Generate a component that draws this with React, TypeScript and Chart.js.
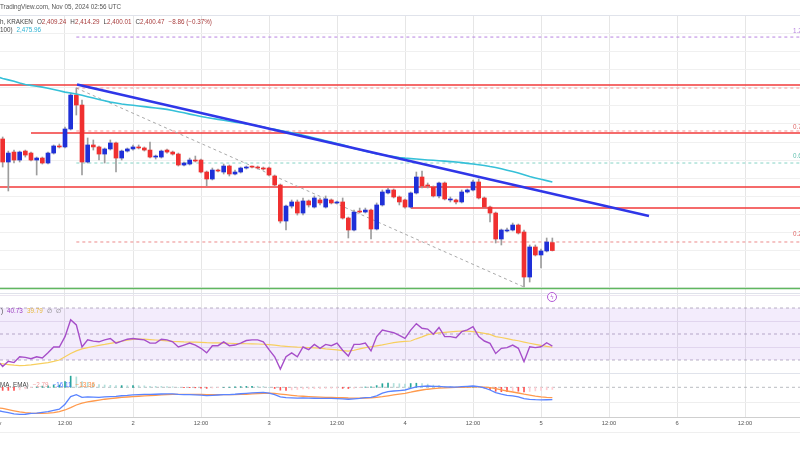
import { useEffect, useRef } from "react";
import { Chart, registerables } from "chart.js";

Chart.register(...registerables);

// ---------- time axis (hours since Nov 1 00:00 UTC) ----------
const X_MIN = 0.53;
const X_MAX = 141.7;
const TICK_HOURS = [12, 24, 36, 48, 60, 72, 84, 96, 108, 120, 132];
const TICK_LABELS = ["12:00", "2", "12:00", "3", "12:00", "4", "12:00", "5", "12:00", "6", "12:00"];

// ---------- hourly candles ETH/USD (Kraken) ----------
const openP = [
  2513.5, 2523.4, 2498.0, 2509.0, 2500.2, 2510.1, 2507.9, 2500.2, 2502.4, 2496.9,
  2507.9, 2515.7, 2514.6, 2534.4, 2571.8, 2560.8, 2498.0, 2516.8, 2514.6, 2506.8,
  2512.4, 2519.0, 2502.4, 2510.1, 2512.4, 2514.6, 2513.5, 2511.2, 2503.5, 2503.5,
  2511.2, 2509.0, 2506.8, 2494.7, 2495.8, 2500.2, 2500.2, 2487.0, 2479.3, 2489.2,
  2487.0, 2493.6, 2484.8, 2487.0, 2491.4, 2492.5, 2492.5, 2491.4, 2491.4, 2482.6,
  2472.7, 2433.0, 2449.5, 2454.0, 2441.8, 2455.1, 2448.4, 2456.2, 2448.4, 2456.2,
  2452.9, 2454.0, 2436.3, 2423.1, 2444.0, 2442.9, 2445.1, 2424.2, 2450.7, 2463.9,
  2467.2, 2459.5, 2456.2, 2448.4, 2463.9, 2481.5, 2472.7, 2470.5, 2460.6, 2474.9,
  2456.2, 2456.2, 2454.0, 2465.0, 2467.2, 2476.0, 2458.4, 2448.4, 2441.8, 2413.2,
  2422.0, 2423.1, 2428.6, 2420.9, 2371.3, 2404.4, 2395.6, 2400.0, 2409.24,
];
const highP = [
  2521.2, 2525.6, 2510.1, 2511.2, 2510.1, 2511.2, 2509.0, 2503.5, 2503.5, 2509.0,
  2516.8, 2517.9, 2536.6, 2574.0, 2579.5, 2566.3, 2524.5, 2522.3, 2515.7, 2513.5,
  2522.3, 2520.1, 2511.2, 2513.5, 2516.8, 2516.8, 2514.6, 2520.1, 2505.7, 2511.2,
  2512.4, 2510.1, 2507.9, 2498.0, 2502.4, 2504.6, 2501.3, 2488.1, 2491.4, 2490.3,
  2495.8, 2494.7, 2489.2, 2492.5, 2493.6, 2493.6, 2493.6, 2492.5, 2492.5, 2483.7,
  2473.8, 2450.7, 2456.2, 2456.2, 2458.4, 2456.2, 2460.6, 2458.4, 2460.6, 2457.3,
  2455.1, 2458.4, 2437.4, 2445.1, 2447.3, 2447.3, 2446.2, 2452.9, 2467.2, 2469.4,
  2468.3, 2460.6, 2457.3, 2465.0, 2487.0, 2488.1, 2474.9, 2471.6, 2476.0, 2476.0,
  2459.5, 2457.3, 2467.2, 2468.3, 2478.2, 2479.3, 2459.5, 2449.5, 2442.9, 2424.2,
  2425.3, 2430.8, 2429.7, 2423.1, 2406.6, 2406.6, 2402.2, 2414.3, 2414.29,
];
const lowP = [
  2511.2, 2492.5, 2466.1, 2496.9, 2498.0, 2503.5, 2499.1, 2483.7, 2495.8, 2495.8,
  2506.8, 2513.5, 2513.5, 2533.3, 2549.8, 2483.7, 2496.9, 2511.2, 2500.2, 2496.9,
  2511.2, 2487.0, 2500.2, 2509.0, 2511.2, 2512.4, 2510.1, 2502.4, 2501.3, 2502.4,
  2507.9, 2505.7, 2493.6, 2493.6, 2494.7, 2498.0, 2485.9, 2471.6, 2478.2, 2487.0,
  2484.8, 2482.6, 2483.7, 2485.9, 2490.3, 2491.4, 2490.3, 2489.2, 2482.6, 2471.6,
  2430.8, 2423.1, 2447.3, 2439.6, 2439.6, 2448.4, 2447.3, 2450.7, 2447.3, 2451.8,
  2451.8, 2435.2, 2414.3, 2422.0, 2441.8, 2441.8, 2413.2, 2423.1, 2449.5, 2462.8,
  2458.4, 2450.7, 2447.3, 2447.3, 2462.8, 2469.4, 2469.4, 2459.5, 2458.4, 2456.2,
  2454.0, 2451.8, 2452.9, 2463.9, 2466.1, 2457.3, 2447.3, 2431.9, 2408.8, 2406.6,
  2420.9, 2422.0, 2418.7, 2360.3, 2365.8, 2394.5, 2381.3, 2398.9, 2400.01,
];
const closeP = [
  2519.0, 2498.0, 2507.9, 2500.2, 2509.0, 2505.7, 2500.2, 2502.4, 2496.9, 2507.9,
  2515.7, 2514.6, 2534.4, 2571.8, 2560.8, 2498.0, 2516.8, 2514.6, 2506.8, 2512.4,
  2519.0, 2502.4, 2510.1, 2512.4, 2514.6, 2513.5, 2511.2, 2503.5, 2504.6, 2510.1,
  2509.0, 2506.8, 2494.7, 2496.9, 2500.2, 2499.1, 2487.0, 2479.3, 2489.2, 2488.1,
  2493.6, 2484.8, 2487.0, 2491.4, 2492.5, 2492.4, 2491.4, 2490.3, 2483.7, 2472.7,
  2433.0, 2449.5, 2454.0, 2441.8, 2455.1, 2450.7, 2458.4, 2452.9, 2457.3, 2452.9,
  2454.0, 2436.3, 2423.1, 2442.9, 2442.9, 2445.1, 2424.2, 2450.7, 2465.0, 2467.2,
  2459.5, 2454.0, 2448.4, 2463.9, 2481.5, 2471.6, 2471.6, 2460.6, 2474.9, 2457.3,
  2457.3, 2454.0, 2465.0, 2467.2, 2476.0, 2458.4, 2448.4, 2441.8, 2413.2, 2423.1,
  2423.1, 2428.6, 2419.8, 2371.3, 2404.4, 2395.6, 2400.0, 2409.9, 2400.47,
];
const ma100 = [
  2592, 2590, 2588.5, 2587, 2585, 2583.5, 2582.5, 2581.5, 2580.5, 2579.3,
  2578, 2576.5, 2575, 2574, 2573, 2571.5, 2570, 2568.5, 2567, 2565.5,
  2564, 2563, 2562, 2561.2, 2560.5, 2559.7, 2559, 2558.2, 2557.5, 2556.8,
  2556, 2554.8, 2553.5, 2552.2, 2550.8, 2549.5, 2548.2, 2547, 2546, 2545,
  2544, 2543, 2542, 2541, 2540, 2539, 2537.8, 2536.5, 2535, 2534,
  2532.8, 2531.5, 2530.3, 2529, 2527.5, 2526, 2524.5, 2523, 2521.5, 2520,
  2518.5, 2517, 2515, 2513, 2511.5, 2510, 2508.5, 2507, 2506, 2505,
  2504, 2503, 2502.3, 2501.8, 2501.3, 2500.8, 2500.3, 2499.9, 2499.4, 2499,
  2498.5, 2498, 2497.3, 2496.5, 2495.8, 2495, 2494.2, 2493, 2492, 2490.5,
  2489, 2487.5, 2486, 2484, 2482, 2480.5, 2479, 2477.5, 2475.96,
];

// ---------- RSI (14) and its MA ----------
const rsi = [
  30, 25, 29, 28, 32.5, 32, 31, 32.5, 31.5, 35.5,
  40, 40, 48, 61, 57, 40, 45.5, 44.5, 44, 45.5,
  46.5, 43, 44.5, 46, 46.5, 46, 45.5, 43, 43, 46,
  45.5, 44, 40, 41.5, 43, 41.5, 39, 35.5, 41, 41,
  44, 41, 41.5, 43, 45, 45.5, 45.5, 44, 38, 32.5,
  23, 32.5, 35.5, 32.5, 40, 38, 42, 39, 42, 41,
  43, 37.5, 33, 42, 42, 43, 37, 48, 53, 52,
  51, 49, 46.7, 53, 58, 54.4, 53.8, 49.8, 55, 48,
  48, 47.2, 51.8, 53.1, 55.6, 48, 44.6, 42.8, 35, 39,
  39.5, 41.5, 39, 28.7, 40.2, 39.5, 40.2, 43.3, 40.73,
];
const rsiMa = [
  27.5, 27, 26.5, 26, 25.6, 25.8, 26.2, 26.8, 27.4, 28,
  28.9, 30, 32.5, 35, 37, 38.5, 39.5, 40.4, 41.3, 42,
  42.8, 43.6, 44.4, 45.2, 45.9, 46.1, 46, 45.7, 45.4, 45.1,
  44.7, 44.3, 44.1, 43.9, 43.8, 43.7, 43.5, 43.3, 43.2, 43.1,
  43, 42.9, 42.7, 42.6, 42.5, 42.4, 42.3, 42.1, 41.8, 41.4,
  40.8, 40.5, 40.2, 39.9, 39.8, 39.6, 39.4, 39.2, 38.6, 38.2,
  37.8, 37.2, 36.8, 37.5, 38.5, 39.5, 40.2, 40.9, 41.6, 42.5,
  43.3, 44, 44.3, 44.6, 46.3, 47.8, 49.5, 50.3, 50.9, 51.3,
  51.7, 52, 52.3, 52.2, 51.8, 51.3, 50.5, 49.7, 48, 47.3,
  46.5, 45.5, 44.8, 43.8, 42.9, 42, 41.2, 40.5, 39.79,
];
const RSI_LEVELS = [70, 50, 30];

// ---------- MACD (12, 26, 9) ----------
const macd = [
  -30, -31.5, -33, -34.5, -35.3, -35, -34, -33.5, -32.5, -31.5,
  -30, -28.5, -22, -12, -9.5, -13, -12.5, -12.8, -13, -12.5,
  -12, -11.8, -11, -10.5, -9.8, -9.5, -9.2, -9.3, -9, -8.7,
  -8.5, -8.6, -9.2, -9.5, -9.6, -9.8, -10.2, -10.8, -10.4, -10,
  -9.6, -9.4, -9, -8.4, -7.8, -7.2, -6.8, -6.7, -7.5, -9.5,
  -12.5, -13.5, -13.8, -14, -13.8, -14, -14.2, -14.4, -14.4, -14.5,
  -14.6, -15, -15.5, -15, -14.5, -13.5, -13.2, -11, -7.5, -5.5,
  -4.8, -4.2, -3.5, -1.5, 0.5, 1.2, 1.7, 1.2, 1.3, 0.6,
  0.4, 0.3, 0.8, 1.3, 1.7, 0.8, -0.8, -3.5, -7, -9,
  -10.5, -11.2, -12.5, -14.8, -15.6, -16.1, -16.4, -16.2, -16.11,
];
const signal = [
  -26.4, -27.5, -29, -30.5, -32, -33, -33.6, -34, -34, -33.5,
  -32.8, -31.5, -29.5, -26.5, -23, -20.5, -19, -17.8, -16.6, -15.5,
  -14.6, -13.9, -13.2, -12.6, -12.1, -11.6, -11.1, -10.7, -10.3, -9.9,
  -9.5, -9.3, -9.2, -9.1, -9.1, -9.1, -9.2, -9.4, -9.5, -9.6,
  -9.6, -9.6, -9.5, -9.3, -9, -8.6, -8.2, -7.8, -7.6, -8,
  -8.8, -9.6, -10.4, -11.1, -11.6, -12, -12.4, -12.7, -13, -13.2,
  -13.4, -13.6, -13.9, -14, -14, -13.9, -13.7, -13.2, -12.2, -11,
  -9.8, -8.8, -7.8, -6.4, -4.8, -3.5, -2.5, -1.7, -1.1, -0.7,
  -0.4, -0.2, 0, 0.3, 0.5, 0.5, 0.3, -0.4, -1.8, -3.3,
  -4.8, -6.1, -7.4, -8.9, -10.2, -11.4, -12.4, -13, -13.36,
];
const hist = [
  -3.6, -4, -4, -4, -3.3, -2, -0.4, 0.5, 1.5, 2,
  2.8, 3, 7.5, 14.5, 13.5, 7.5, 6.5, 5, 3.6, 3,
  2.6, 2.1, 2.2, 2.1, 2.3, 2.1, 1.9, 1.4, 1.3, 1.2,
  1, 0.7, 0, -0.4, -0.5, -0.7, -1, -1.4, -0.9, -0.4,
  0, 0.2, 0.5, 0.9, 1.2, 1.4, 1.4, 1.1, 0.1, -1.5,
  -3.7, -3.9, -3.4, -2.9, -2.2, -2, -1.8, -1.7, -1.4, -1.3,
  -1.2, -1.4, -1.6, -1, -0.5, 0.4, 0.5, 2.2, 4.7, 5.5,
  5, 4.6, 4.3, 4.9, 5.3, 4.7, 4.2, 2.9, 2.4, 1.3,
  0.8, 0.5, 0.8, 1, 1.2, 0.3, -1.1, -3.1, -5.2, -5.7,
  -5.7, -5.1, -5.1, -5.9, -5.4, -4.7, -4, -3.2, -2.79,
];

// ---------- drawings (price levels, trend lines) ----------
const redLevelPrices = [2582.9, 2530.0, 2470.5, 2447.4];
const redLevelStartHours = [X_MIN, 6.0, X_MIN, 73.05];
const supportPrice = 2358.7;
const fibStartHour = 14;
const fibLabels = ["1.272", "1", "0.786", "0.618", "0.236"];
const fibPrices = [2635.7, 2579.5, 2532.2, 2496.9, 2409.9];
const trendHours = [14.12, 115.05];
const trendPrices = [2583.4, 2438.5];
const fibDiagHours = [14, 93];
const fibDiagPrices = [2579.5, 2360.3];

// axis ranges / grid values
const PRICE_MIN = 2353.7;
const PRICE_MAX = 2660.0;
const PRICE_GRID = [2360, 2380, 2400, 2420, 2440, 2460, 2480, 2500, 2520, 2540, 2560, 2580, 2600, 2620, 2640];
const RSI_MIN = 20;
const RSI_MAX = 80.77;
const RSI_GRID = [40, 60, 80];
const MACD_MIN = -38.6;
const MACD_MAX = 17.3;
const MACD_GRID = [-20];

// ---------- styles ----------
const FONT = "'Liberation Sans', Arial, sans-serif";
const UP = "#1f30d8";
const DOWN = "#f03030";
const RED_LINE = "#f23a3a";
const fibColors = ["#b784e0", "rgba(240,80,80,0.55)", "rgba(240,80,80,0.6)", "#86d3c6", "#ec8a8a"];
const fibTextColors = ["#b784e0", "#e06666", "#e06666", "#5fbfae", "#e06666"];
const fibLabelTops = [27, 0, 123, 152, 230];

const hourOf = (i: number) => i;

function xAxis(showLabels: boolean): any {
  return {
    type: "linear",
    min: X_MIN,
    max: X_MAX,
    offset: false,
    afterBuildTicks: (s: any) => {
      s.ticks = TICK_HOURS.map((v) => ({ value: v }));
    },
    afterFit: (s: any) => {
      s.height = showLabels ? 11 : 0;
    },
    ticks: {
      display: showLabels,
      autoSkip: false,
      maxRotation: 0,
      minRotation: 0,
      padding: 3,
      color: "#555",
      font: { family: FONT, size: 5.8 },
      callback: (_v: any, i: number) => TICK_LABELS[i],
    },
    grid: { color: "#e6e6e6", drawTicks: false, lineWidth: 1, offset: false },
    border: { display: showLabels, color: "#cfcfcf" },
  };
}

function yAxis(min: number, max: number, grid: number[], color: string): any {
  return {
    type: "linear",
    min,
    max,
    offset: false,
    afterBuildTicks: (s: any) => {
      s.ticks = grid.map((v) => ({ value: v }));
    },
    afterFit: (s: any) => {
      s.width = 0;
    },
    ticks: { display: false },
    grid: { color, drawTicks: false, lineWidth: 1 },
    border: { display: false },
  };
}

const baseOptions = (scales: any): any => ({
  responsive: false,
  animation: false,
  events: [],
  layout: { padding: 0 },
  plugins: { legend: { display: false }, tooltip: { enabled: false } },
  scales,
});

function lineDs(points: { x: number; y: number }[], color: string, width: number, order: number, dash: number[] = []): any {
  return {
    type: "line",
    data: points,
    borderColor: color,
    borderWidth: width,
    borderDash: dash,
    pointRadius: 0,
    tension: 0,
    fill: false,
    order,
  };
}

export default function App() {
  const mainRef = useRef<HTMLCanvasElement>(null);
  const rsiRef = useRef<HTMLCanvasElement>(null);
  const macdRef = useRef<HTMLCanvasElement>(null);

  useEffect(() => {
    const n = closeP.length;
    const idx = Array.from({ length: n }, (_, i) => i);
    const candleColor = idx.map((i) => (closeP[i] < openP[i] ? DOWN : UP));

    const mainDatasets: any[] = [];
    redLevelPrices.forEach((p, k) => {
      mainDatasets.push(lineDs([{ x: redLevelStartHours[k], y: p }, { x: X_MAX, y: p }], RED_LINE, 1.5, 10));
    });
    mainDatasets.push(lineDs([{ x: X_MIN, y: supportPrice }, { x: X_MAX, y: supportPrice }], "#5fb760", 1.6, 10));
    fibPrices.forEach((p, k) => {
      mainDatasets.push(lineDs([{ x: fibStartHour, y: p }, { x: X_MAX, y: p }], fibColors[k], 1, 9, [3, 3]));
    });
    mainDatasets.push(
      lineDs(
        fibDiagHours.map((h, k) => ({ x: h, y: fibDiagPrices[k] })),
        "#a9a9a9",
        1,
        9,
        [3, 3]
      )
    );
    mainDatasets.push({
      type: "bar",
      data: idx.map((i) => ({ x: hourOf(i), y: [lowP[i], highP[i]] })),
      backgroundColor: "#9d9d9d",
      barThickness: 1,
      grouped: false,
      minBarLength: 1,
      borderWidth: 0,
      order: 6,
    });
    mainDatasets.push({
      type: "bar",
      data: idx.map((i) => ({ x: hourOf(i), y: [openP[i], closeP[i]] })),
      backgroundColor: candleColor,
      barThickness: 4,
      grouped: false,
      minBarLength: 1,
      borderWidth: 0,
      order: 5,
    });
    mainDatasets.push(lineDs(idx.map((i) => ({ x: hourOf(i), y: ma100[i] })), "#35c0d8", 1.6, 2));
    mainDatasets.push(
      lineDs(
        trendHours.map((h, k) => ({ x: h, y: trendPrices[k] })),
        "#2f36e8",
        2.5,
        1
      )
    );

    const main = new Chart(mainRef.current!, {
      type: "bar",
      data: { datasets: mainDatasets },
      options: baseOptions({
        x: xAxis(false),
        y: yAxis(PRICE_MIN, PRICE_MAX, PRICE_GRID, "#f0f0f0"),
      }),
    } as any);

    const levelLine = (v: number, fill: any, order: number) => ({
      ...lineDs([{ x: X_MIN, y: v }, { x: X_MAX, y: v }], "rgba(140,128,160,0.6)", 1, order, [3, 3]),
      fill,
      backgroundColor: "rgba(150, 80, 225, 0.11)",
    });
    const rsiChart = new Chart(rsiRef.current!, {
      type: "line",
      data: {
        datasets: [
          levelLine(RSI_LEVELS[0], "+1", 5),
          levelLine(RSI_LEVELS[2], false, 5),
          levelLine(RSI_LEVELS[1], false, 5),
          lineDs(idx.map((i) => ({ x: hourOf(i), y: rsiMa[i] })), "#f7cf5e", 1.2, 2),
          lineDs(idx.map((i) => ({ x: hourOf(i), y: rsi[i] })), "#a64ec9", 1.4, 1),
        ],
      },
      options: baseOptions({
        x: xAxis(false),
        y: yAxis(RSI_MIN, RSI_MAX, RSI_GRID, "#ebe6f0"),
      }),
    } as any);

    const histColor = idx.map((i) => {
      const v = hist[i];
      const prev = i > 0 ? hist[i - 1] : v;
      if (v >= 0) return v > prev ? "#26a69a" : "#b2dfdb";
      return v > prev ? "#ffcdd2" : "#ff5252";
    });
    const macdChart = new Chart(macdRef.current!, {
      type: "bar",
      data: {
        datasets: [
          {
            type: "bar",
            data: idx.map((i) => ({ x: hourOf(i), y: hist[i] })),
            backgroundColor: histColor,
            barThickness: 1,
            grouped: false,
            borderWidth: 0,
            order: 3,
          },
          lineDs([{ x: X_MIN, y: 0 }, { x: X_MAX, y: 0 }], "rgba(120,123,134,0.5)", 1, 4, [3, 3]),
          lineDs(idx.map((i) => ({ x: hourOf(i), y: signal[i] })), "#ff9a4d", 1.3, 2),
          lineDs(idx.map((i) => ({ x: hourOf(i), y: macd[i] })), "#5a84ff", 1.3, 1),
        ],
      },
      options: baseOptions({
        x: xAxis(true),
        y: yAxis(MACD_MIN, MACD_MAX, MACD_GRID, "#eeeeee"),
      }),
    } as any);

    return () => {
      main.destroy();
      rsiChart.destroy();
      macdChart.destroy();
    };
  }, []);

  const txt: any = {
    position: "absolute",
    fontFamily: FONT,
    fontSize: 6.3,
    lineHeight: "8px",
    whiteSpace: "nowrap",
    color: "#555",
  };
  const val = "#a83c3c";
  const sep = (top: number, color = "#e0e3eb") => (
    <div style={{ position: "absolute", left: 0, top, width: 800, height: 1, background: color }} />
  );

  return (
    <div
      style={{
        position: "absolute",
        left: 0,
        top: 0,
        width: 800,
        height: 450,
        overflow: "hidden",
        background: "#ffffff",
      }}
    >
      <canvas ref={mainRef} width={800} height={278} style={{ position: "absolute", left: 0, top: 15, width: 800, height: 278 }} />
      <canvas ref={rsiRef} width={800} height={79} style={{ position: "absolute", left: 0, top: 294, width: 800, height: 79 }} />
      <canvas ref={macdRef} width={800} height={54} style={{ position: "absolute", left: 0, top: 374, width: 800, height: 54 }} />
      {sep(15)}
      {sep(293)}
      {sep(373)}
      {sep(432, "#efefef")}

      <div style={{ ...txt, left: 0, top: 3 }}>TradingView.com, Nov 05, 2024 02:56 UTC</div>
      <div style={{ ...txt, left: 0, top: 18, color: "#444" }}>
        <span>h, KRAKEN</span>
        <span style={{ marginLeft: 4 }}>O</span>
        <span style={{ color: val }}>2,409.24</span>
        <span style={{ marginLeft: 4 }}>H</span>
        <span style={{ color: val }}>2,414.29</span>
        <span style={{ marginLeft: 4 }}>L</span>
        <span style={{ color: val }}>2,400.01</span>
        <span style={{ marginLeft: 4 }}>C</span>
        <span style={{ color: val }}>2,400.47</span>
        <span style={{ marginLeft: 4, color: val }}>−8.86 (−0.37%)</span>
      </div>
      <div style={{ ...txt, left: 0, top: 26, color: "#444" }}>
        <span>100)</span>
        <span style={{ marginLeft: 4, color: "#2fb3d3" }}>2,475.96</span>
      </div>

      {fibLabels.map((l, k) =>
        k === 1 ? null : (
          <div key={l} style={{ ...txt, left: 793, top: fibLabelTops[k], color: fibTextColors[k] }}>
            {l}({fibPrices[k].toFixed(2)})
          </div>
        )
      )}

      <div style={{ ...txt, left: 1, top: 307, color: "#444" }}>
        <span>)</span>
        <span style={{ marginLeft: 4, color: "#9c3fc0" }}>40.73</span>
        <span style={{ marginLeft: 4, color: "#e7b93a" }}>39.79</span>
        <span style={{ marginLeft: 4, color: "#777" }}>∅</span>
        <span style={{ marginLeft: 4, color: "#777" }}>∅</span>
      </div>
      <div style={{ ...txt, left: 0, top: 381, color: "#444" }}>
        <span>MA, EMA)</span>
        <span style={{ marginLeft: 4, color: "#f29b9b" }}>−2.79</span>
        <span style={{ marginLeft: 4, color: "#4a78ff" }}>−16.11</span>
        <span style={{ marginLeft: 4, color: "#ff8a3d" }}>−13.36</span>
      </div>
      <div style={{ ...txt, left: -9, top: 419, fontSize: 5.8 }}>Nov</div>

      <div
        style={{
          position: "absolute",
          left: 547,
          top: 292,
          width: 8,
          height: 8,
          borderRadius: "50%",
          border: "1px solid #b35ad6",
          color: "#b35ad6",
          fontFamily: "'DejaVu Sans', sans-serif",
          fontSize: 6,
          lineHeight: "8px",
          textAlign: "center",
          background: "#fff",
        }}
      >
        ϟ
      </div>
    </div>
  );
}
